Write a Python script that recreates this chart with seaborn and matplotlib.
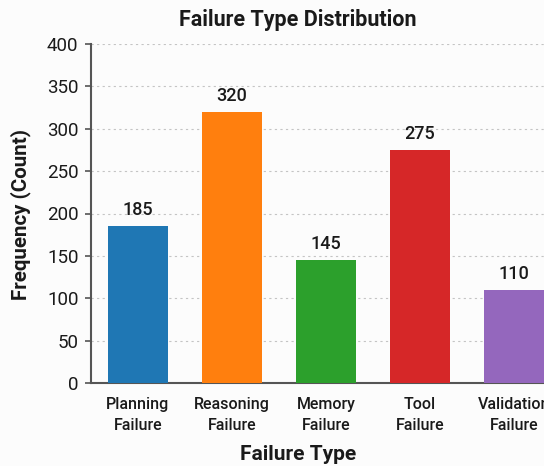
import matplotlib
matplotlib.use("Agg")
import matplotlib.pyplot as plt
import seaborn as sns
import pandas as pd

categories = ["Planning\nFailure", "Reasoning\nFailure", "Memory\nFailure",
              "Tool\nFailure", "Validation\nFailure"]
counts = [185, 320, 145, 275, 110]
colors = ["#1f77b4", "#ff7f0e", "#2ca02c", "#d62728", "#9467bd"]
yticks = [0, 50, 100, 150, 200, 250, 300, 350, 400]

sns.set_theme(style="white")
plt.rcParams["font.family"] = ["Roboto", "DejaVu Sans"]

df = pd.DataFrame({"Failure Type": categories, "Count": counts})

fig = plt.figure(figsize=(5.44, 4.66), dpi=100)
fig.patch.set_facecolor("#fcfcfc")
ax = fig.add_axes([91 / 544, 1 - 383 / 466, 1 - 91 / 544, 339 / 466])
ax.set_facecolor("#fcfcfc")

sns.barplot(data=df, x="Failure Type", y="Count", hue="Failure Type",
            palette=colors, width=0.63, legend=False, ax=ax,
            saturation=1, linewidth=0, zorder=3)

for i, v in enumerate(counts):
    ax.text(i, v + 8, str(v), ha="center", va="bottom",
            fontsize=13, fontweight="medium", color="#1a1a1a")

ax.set_ylim(0, 400)
ax.set_xlim(-0.5, 4.32)
ax.set_yticks(yticks)
ax.tick_params(axis="y", labelsize=13.5, length=4, width=1.2,
               color="#555555", left=True, labelcolor="#1a1a1a", pad=5)
ax.tick_params(axis="x", labelsize=11.5, length=0, pad=10,
               labelcolor="#1a1a1a")
for lbl in ax.get_xticklabels():
    lbl.set_linespacing(1.5)
    lbl.set_fontweight("medium")
ax.yaxis.grid(True, linestyle=(0, (2, 3)), color="#c4c4c4", linewidth=0.8,
              zorder=0)
ax.set_axisbelow(True)

for s in ["top", "right"]:
    ax.spines[s].set_visible(False)
for s in ["left", "bottom"]:
    ax.spines[s].set_color("#555555")
    ax.spines[s].set_linewidth(1.5)

ax.set_xlabel("Failure Type", fontsize=15, fontweight="bold",
              color="#1a1a1a")
ax.xaxis.set_label_coords((298 - 91) / 453, -(445 - 383) / 339)
ax.set_ylabel("Frequency (Count)", fontsize=14.8, fontweight="bold",
              color="#1a1a1a")
ax.yaxis.set_label_coords(-(91 - 31) / 453, (383 - 215) / 339)
fig.text(298 / 544, 1 - 20 / 466, "Failure Type Distribution", ha="center",
         va="center", fontsize=15.5, fontweight="bold", color="#1a1a1a")

fig.savefig("out.png", dpi=100, facecolor=fig.get_facecolor())
